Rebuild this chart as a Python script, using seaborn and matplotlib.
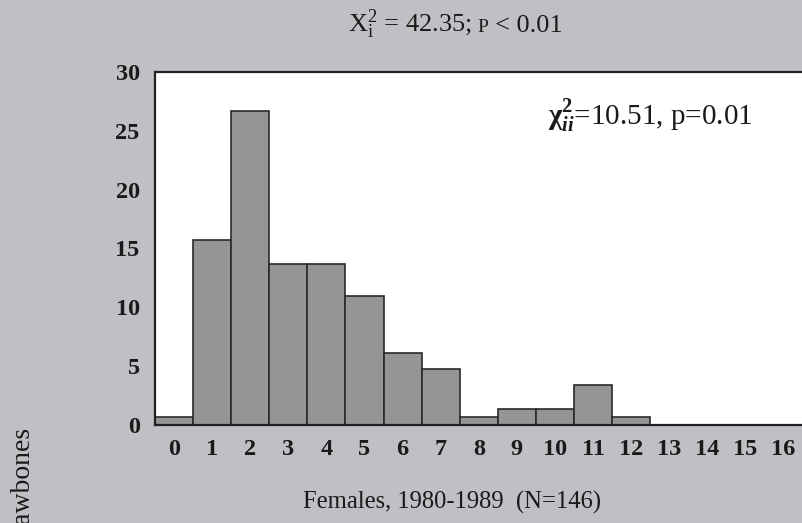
import matplotlib
matplotlib.use("Agg")
import matplotlib.pyplot as plt
import seaborn as sns
import pandas as pd

# ---- data ----
categories = list(range(17))
percent = [0.68, 15.75, 26.71, 13.70, 13.70, 10.96, 6.16, 4.79, 0.68,
           1.37, 1.37, 3.42, 0.68, 0.0, 0.0, 0.0, 0.0]
y_ticks = [0, 5, 10, 15, 20, 25, 30]
x_label = "Females, 1980-1989  (N=146)"
y_label = "% of Jawbones"
stat_outer = r"X$^{2}_{\mathrm{i}}$ = 42.35;"
stat_inner = r"$\mathbf{\chi}^{\mathbf{2}}_{\mathbfit{ii}}$=10.51, p=0.01"

BG = "#bfc0c4"
BAR = "#959597"
EDGE = "#2a2a2a"

sns.set_style("white")
plt.rcParams["font.family"] = ["Liberation Serif", "DejaVu Serif"]
plt.rcParams["mathtext.fontset"] = "custom"
plt.rcParams["mathtext.rm"] = "Liberation Serif"
plt.rcParams["mathtext.it"] = "Liberation Serif:italic"
plt.rcParams["mathtext.bf"] = "Liberation Serif:bold"
plt.rcParams["mathtext.bfit"] = "Liberation Serif:bold:italic"

W, H = 803, 523
fig = plt.figure(figsize=(W / 100, H / 100), dpi=100, facecolor=BG)
ax = fig.add_axes([155 / W, 1 - 425 / H, 1 - 155 / W, (425 - 72) / H])
ax.set_facecolor("white")

df = pd.DataFrame({"cat": categories, "pct": percent})
sns.barplot(data=df, x="cat", y="pct", color=BAR, saturation=1, width=1,
            edgecolor=EDGE, linewidth=1.2, errorbar=None, ax=ax)

ax.set_xlim(-0.5, 16.51)
ax.set_ylim(0, 30)
ax.set_yticks(y_ticks)
ax.set_yticklabels([str(v) for v in y_ticks])
ax.set_xticks(range(len(categories)))
ax.set_xticklabels([str(c) for c in categories])
for lab in ax.get_xticklabels() + ax.get_yticklabels():
    lab.set_fontweight("bold")
    lab.set_fontsize(17.5)
    lab.set_color("#1a1a1a")
ax.tick_params(axis="y", direction="in", length=9, width=1.2, color="#6a6a6a", pad=11)
ax.tick_params(axis="x", length=0, pad=10)
ax.set_xlabel("")
ax.set_ylabel("")
for side in ["left", "top", "bottom"]:
    ax.spines[side].set_linewidth(1.6)
    ax.spines[side].set_color("#222222")
ax.spines["right"].set_visible(False)

# x label
fig.text(452 / W, 1 - 509 / H, x_label, ha="center", va="baseline",
         fontsize=17.7, color="#1a1a1a")

# y label on far left (partly beyond the lower edge, as in the source)
fig.text(24 / W, 1 - 428 / H, y_label, rotation=90, rotation_mode="anchor",
         ha="right", va="center", fontsize=20, color="#1a1a1a")

# title statistic
t1 = fig.text(348 / W, 1 - 32 / H, stat_outer, ha="left", va="baseline",
              fontsize=19, color="#1a1a1a")
p_txt = ax.annotate("P", xy=(1, 1 - 32 / H), xycoords=(t1, "figure fraction"),
                    xytext=(4, 0), textcoords="offset points",
                    ha="left", va="baseline", fontsize=14, color="#1a1a1a",
                    annotation_clip=False)
ax.annotate("< 0.01", xy=(1, 1 - 32 / H), xycoords=(p_txt, "figure fraction"),
            xytext=(5, 0), textcoords="offset points",
            ha="left", va="baseline", fontsize=19, color="#1a1a1a",
            annotation_clip=False)

# inner statistic
fig.text(548 / W, 1 - 125 / H, stat_inner, ha="left", va="baseline",
         fontsize=21, color="#1a1a1a")

fig.savefig("out.png", dpi=100, facecolor=BG)
